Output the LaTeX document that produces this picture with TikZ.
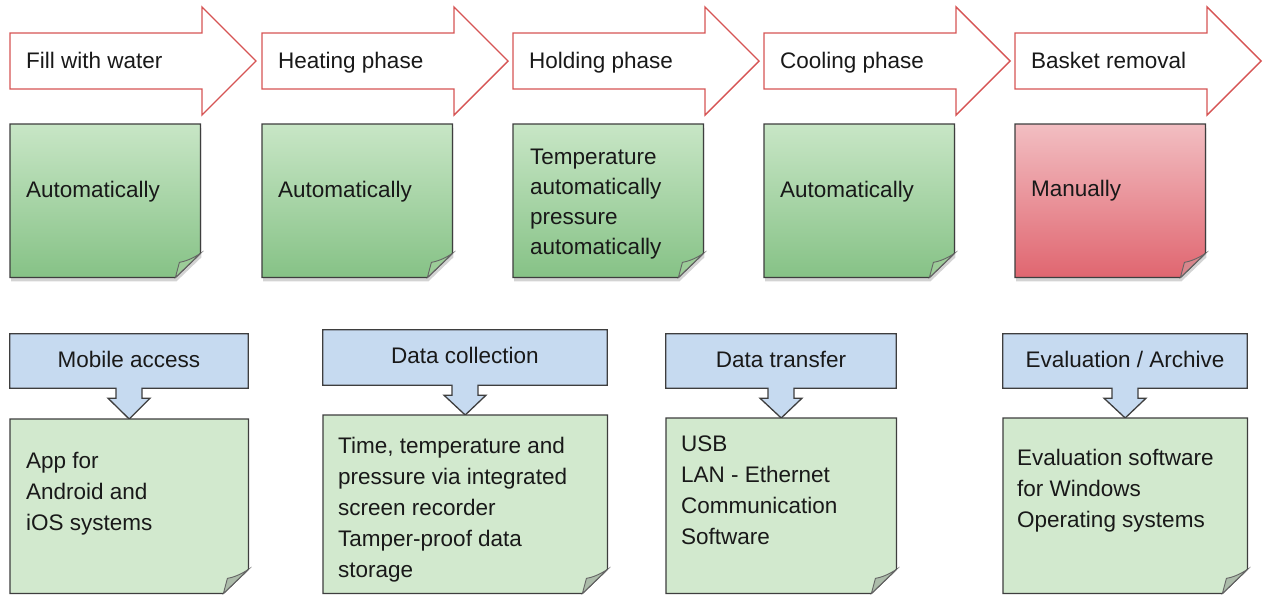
\documentclass[tikz,border=0pt]{standalone}
\usepackage{fontspec}
\setmainfont{Liberation Sans}
\usetikzlibrary{shadows,backgrounds}

\definecolor{phasered}{RGB}{214,84,84}
\definecolor{noteline}{RGB}{62,62,62}
\definecolor{greentop}{RGB}{200,230,198}
\definecolor{greenbot}{RGB}{134,194,134}
\definecolor{greenfold}{RGB}{156,204,152}
\definecolor{redtop}{RGB}{242,190,194}
\definecolor{redbot}{RGB}{224,102,112}
\definecolor{redfold}{RGB}{216,134,140}
\definecolor{palegreen}{RGB}{210,233,206}
\definecolor{palefold}{RGB}{172,188,170}
\definecolor{calloutblue}{RGB}{198,218,240}

% outline of a note with a folded corner, from the anchors of an empty node
\newcommand{\stickynote}[3]{%
  \draw[#2] (#1.north west) -- (#1.north east) -- ([yshift=24pt]#1.south east)
    -- ([xshift=-25pt]#1.south east) -- (#1.south west) -- cycle;
  \draw[#3] ([yshift=24pt]#1.south east)
    .. controls ([xshift=-9pt,yshift=18pt]#1.south east) and ([xshift=-16pt,yshift=16pt]#1.south east) .. ([xshift=-21pt,yshift=15pt]#1.south east)
    .. controls ([xshift=-23pt,yshift=8pt]#1.south east) .. ([xshift=-25pt]#1.south east) -- cycle;
}

% box with a down arrow that points at the note below
\newcommand{\calloutshape}[2]{%
  \draw[calloutfill] (#1.north west) -- (#1.north east) -- (#1.south east)
    -- ([xshift=13pt]#1.south) -- ([xshift=13pt,yshift=-10pt]#1.south)
    -- ([xshift=21pt,yshift=-10pt]#1.south) -- (#2.north)
    -- ([xshift=-21pt,yshift=-10pt]#1.south) -- ([xshift=-13pt,yshift=-10pt]#1.south)
    -- ([xshift=-13pt]#1.south) -- (#1.south west) -- cycle;
}

\tikzset{
  phasearrow/.style={draw=phasered, line width=1.4pt, fill=white, line join=miter},
  phaselabel/.style={font=\fontsize{22.5}{30}\selectfont, text=black!90, inner sep=0pt, anchor=base west},
  notebox/.style={anchor=north west, inner sep=0pt},
  greennote/.style={draw=noteline, line width=1.3pt, top color=greentop, bottom color=greenbot,
    drop shadow={shadow xshift=1pt, shadow yshift=-4pt, opacity=0.35}},
  greenfold/.style={draw=noteline!80, line width=0.9pt, fill=greenfold},
  rednote/.style={draw=noteline, line width=1.3pt, top color=redtop, bottom color=redbot,
    drop shadow={shadow xshift=1pt, shadow yshift=-4pt, opacity=0.35}},
  redfold/.style={draw=noteline!80, line width=0.9pt, fill=redfold},
  palenote/.style={draw=noteline, line width=1.3pt, fill=palegreen},
  palefold/.style={draw=noteline!80, line width=0.9pt, fill=palefold},
  calloutbox/.style={inner sep=0pt, font=\fontsize{22.5}{30}\selectfont, text=black!90,
    text height=17pt, text depth=5pt},
  calloutfill/.style={draw=noteline, line width=1.3pt, fill=calloutblue, line join=miter},
  % multi-line texts sit on the baseline of their last line
  notetext/.style={font=\fontsize{22.5}{30}\selectfont, text=black!90, align=left, inner sep=0pt, anchor=base west},
  lowtext/.style={notetext, font=\fontsize{22.5}{31}\selectfont},
}

\begin{document}
\begin{tikzpicture}[x=1pt,y=-1pt]
  \useasboundingbox (0,0) rectangle (1263,595);

  % ===== phases =====
  \foreach \x/\name/\lbl in {10/fill/Fill with water, 262/heat/Heating phase,
      513/hold/Holding phase, 764/cool/Cooling phase, 1015/basket/Basket removal} {
    \draw[phasearrow] (\x,33) -- ++(192,0) -- ++(0,-26) -- ++(54,54) -- ++(-54,54)
      -- ++(0,-26) -- ++(-192,0) -- cycle;
    \node[phaselabel] (\name) at (\x+16,68) {\lbl};
  }

  % ===== how each phase runs =====
  \foreach \x/\name/\kind in {10/mode1/green, 262/mode2/green, 513/mode3/green,
      764/mode4/green, 1015/mode5/red} {
    \node[notebox, minimum width=190pt, minimum height=153pt] (\name) at (\x,124) {};
    \stickynote{\name}{\kind note}{\kind fold}
  }

  \node[notetext] (mode1t) at (26,197) {Automatically};
  \node[notetext] (mode2t) at (278,197) {Automatically};
  \node[notetext] (mode3t) at (530,254) {Temperature\\automatically\\pressure\\automatically};
  \node[notetext] (mode4t) at (780,197) {Automatically};
  \node[notetext] (mode5t) at (1031,196) {Manually};

  % ===== data handling =====
  \node[notebox, minimum width=238pt, minimum height=174pt] (mobile) at (10,419) {};
  \node[notebox, minimum width=284pt, minimum height=178pt] (collect) at (323,415) {};
  \node[notebox, minimum width=230pt, minimum height=175pt] (transfer) at (666,418) {};
  \node[notebox, minimum width=244pt, minimum height=175pt] (archive) at (1003,418) {};

  \node[calloutbox, minimum width=238pt, minimum height=54pt] (mobileh) at (129,361) {Mobile access};
  \node[calloutbox, minimum width=284pt, minimum height=55pt] (collecth) at (465,357.5) {Data collection};
  \node[calloutbox, minimum width=230pt, minimum height=54pt] (transferh) at (781,361) {Data transfer};
  \node[calloutbox, minimum width=244pt, minimum height=54pt] (archiveh) at (1125,361) {Evaluation / Archive};

  \begin{scope}[on background layer]
    \calloutshape{mobileh}{mobile}
    \calloutshape{collecth}{collect}
    \calloutshape{transferh}{transfer}
    \calloutshape{archiveh}{archive}
    \stickynote{mobile}{palenote}{palefold}
    \stickynote{collect}{palenote}{palefold}
    \stickynote{transfer}{palenote}{palefold}
    \stickynote{archive}{palenote}{palefold}
  \end{scope}

  \node[lowtext] (mobilet) at (26,530) {App for\\Android and\\iOS systems};
  \node[lowtext] (collectt) at (338,577) {Time, temperature and\\pressure via integrated\\screen recorder\\Tamper-proof data\\storage};
  \node[lowtext] (transfert) at (681,544) {USB\\LAN - Ethernet\\Communication\\Software};
  \node[lowtext] (archivet) at (1017,527) {Evaluation software\\for Windows\\Operating systems};
\end{tikzpicture}
\end{document}
